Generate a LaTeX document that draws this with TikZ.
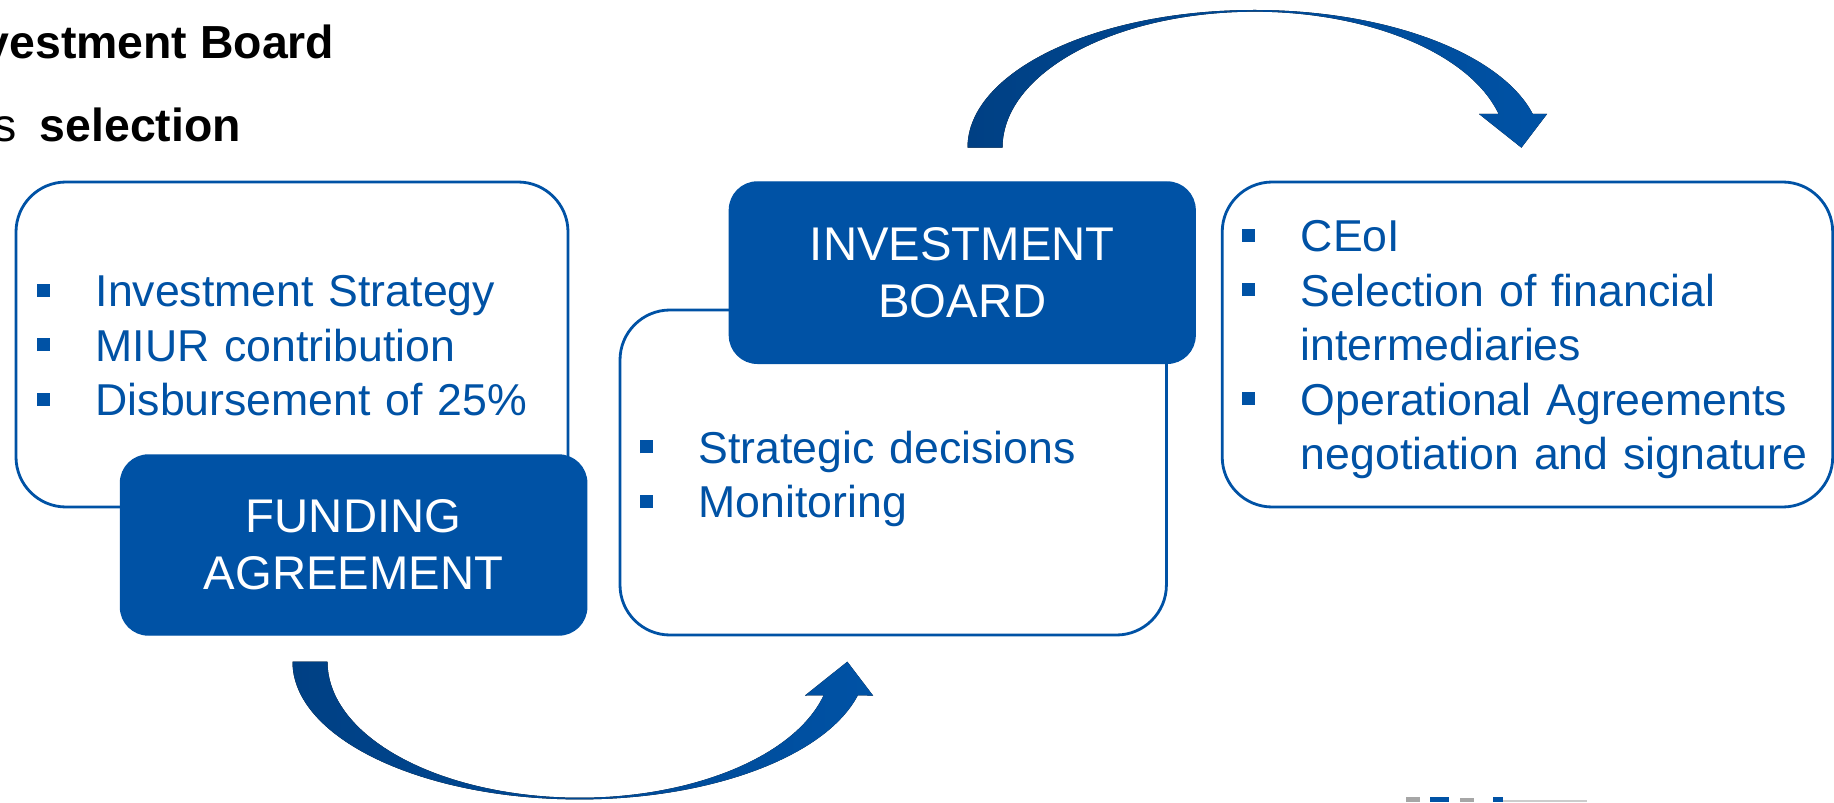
\documentclass[tikz,border=0pt]{standalone}
\usepackage{fontspec}
\setmainfont{Liberation Sans}
\usepackage{xcolor}
\usetikzlibrary{shapes,arrows,positioning,calc}

\definecolor{eifblue}{RGB}{0,82,165}
\definecolor{eifdark}{RGB}{0,64,132}
\newcommand{\sqbul}{\makebox[0.585cm][l]{\rule[0.1cm]{0.13cm}{0.13cm}}}

\begin{document}
\begin{tikzpicture}[
    whitebox/.style={draw=eifblue, line width=0.8pt, fill=white, rounded corners=0.5cm},
    bluebox/.style={draw=eifblue, fill=eifblue, rounded corners=0.28cm},
    boxtitle/.style={text=white, align=center, font=\fontsize{13.45}{16.3}\selectfont},
    bullets/.style={text=eifblue, anchor=base west, inner sep=0pt, text width=6cm, align=left, font=\fontsize{12.7}{15.5}\selectfont},
    heading/.style={anchor=base east, inner sep=0pt, font=\fontsize{13.2}{16}\selectfont},
    bentarrow/.style={left color=eifdark, right color=eifblue}
]
    \useasboundingbox (0,0) rectangle (18.34,8.02);
    \clip (0,0) rectangle (18.34,8.02);

    % Title (cut off at the left)
    \node[heading] (boardhead) at (3.35,7.437) {\textbf{Investment Board}};
    \node[heading] (selhead) at (2.417,6.603) {s\enspace\textbf{selection}};

    % Funding Agreement
    \draw[whitebox] (0.16,2.95) rectangle (5.68,6.20);
    \node[bullets] (fundlist) at (0.364,4.953) {\sqbul Investment Strategy\\ \sqbul MIUR contribution\\ \sqbul Disbursement of 25\%};
    \draw[bluebox] (1.205,1.67) rectangle (5.867,3.47) node[pos=.5, boxtitle] (fundtitle) {FUNDING\\AGREEMENT};

    % Investment Board
    \draw[whitebox] (6.20,1.67) rectangle (11.664,4.92);
    \node[bullets] (boardlist) at (6.394,3.387) {\sqbul Strategic decisions\\ \sqbul Monitoring};
    \draw[bluebox] (7.294,4.387) rectangle (11.951,6.20) node[pos=.5, boxtitle] (boardtitle) {INVESTMENT\\BOARD};

    % Selection
    \draw[whitebox] (12.222,2.95) rectangle (18.327,6.20);
    \node[bullets] (selectlist) at (12.416,5.503) {\sqbul CEoI\\ \sqbul Selection of financial\\ \hspace*{0.585cm}intermediaries\\ \sqbul Operational Agreements\\ \hspace*{0.585cm}negotiation and signature};

    % Arrows
    \fill[bentarrow] (2.925,1.403) arc[start angle=180, end angle=345.8, x radius=2.87cm, y radius=1.377cm]
        -- (8.73,1.065) -- (8.473,1.403) -- (8.05,1.065) -- (8.236,1.066)
        arc[start angle=345.65, end angle=180, x radius=2.52cm, y radius=1.36cm] -- cycle;
    \fill[bentarrow] (9.675,6.543) arc[start angle=180, end angle=14.2, x radius=2.87cm, y radius=1.377cm]
        -- (15.47,6.88) -- (15.214,6.543) -- (14.79,6.88) -- (14.986,6.88)
        arc[start angle=14.35, end angle=180, x radius=2.52cm, y radius=1.36cm] -- cycle;

    % Logo (cut off at the bottom)
    \fill[gray!70] (14.06,0) rectangle (14.20,0.05);
    \fill[eifblue] (14.30,0) rectangle (14.49,0.05);
    \fill[gray!70] (14.60,0) rectangle (14.74,0.04);
    \fill[eifblue] (14.93,0) rectangle (15.03,0.05);
    \fill[gray!40] (15.03,0) rectangle (15.87,0.02);
\end{tikzpicture}
\end{document}
